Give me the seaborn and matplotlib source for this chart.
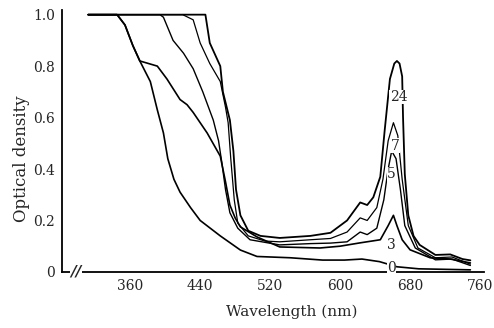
import pandas as pd
import seaborn as sns
import matplotlib.pyplot as plt

# Absorption spectra (wavelength in nm, optical density)
wl_0 = [312, 345, 354, 363, 371, 383, 391, 398, 403, 410, 417, 429, 440, 463, 486, 505, 543, 580, 605, 625, 645, 665, 690, 720, 749]
od_0 = [1.0, 1.0, 0.96, 0.88, 0.82, 0.74, 0.63, 0.54, 0.44, 0.36, 0.31, 0.25, 0.20, 0.14, 0.085, 0.06, 0.055, 0.046, 0.046, 0.05, 0.04, 0.02, 0.012, 0.01, 0.008]

wl_3 = [312, 345, 354, 363, 371, 391, 402, 417, 425, 432, 448, 463, 469, 474, 480, 486, 505, 531, 577, 600, 623, 646, 655, 661, 665, 671, 680, 703, 726, 749]
od_3 = [1.0, 1.0, 0.96, 0.88, 0.82, 0.80, 0.75, 0.67, 0.65, 0.62, 0.54, 0.45, 0.35, 0.26, 0.21, 0.175, 0.136, 0.097, 0.093, 0.10, 0.113, 0.125, 0.18, 0.22, 0.18, 0.125, 0.086, 0.055, 0.05, 0.035]

wl_5 = [312, 394, 398, 409, 421, 432, 443, 455, 461, 465, 469, 474, 483, 497, 531, 566, 589, 608, 623, 631, 642, 650, 655, 659, 664, 669, 674, 686, 709, 728, 749]
od_5 = [1.0, 1.0, 0.99, 0.90, 0.85, 0.79, 0.70, 0.59, 0.51, 0.42, 0.32, 0.23, 0.17, 0.125, 0.105, 0.11, 0.112, 0.117, 0.155, 0.145, 0.17, 0.28, 0.40, 0.47, 0.44, 0.32, 0.18, 0.093, 0.047, 0.05, 0.025]

wl_7 = [312, 420, 432, 440, 451, 463, 469, 472, 475, 479, 483, 495, 514, 531, 566, 589, 608, 623, 631, 642, 649, 655, 661, 666, 671, 678, 689, 709, 728, 749]
od_7 = [1.0, 1.0, 0.98, 0.89, 0.81, 0.74, 0.64, 0.58, 0.44, 0.28, 0.19, 0.14, 0.12, 0.117, 0.125, 0.13, 0.155, 0.21, 0.20, 0.25, 0.36, 0.51, 0.58, 0.53, 0.36, 0.18, 0.093, 0.055, 0.058, 0.03]

wl_24 = [312, 446, 451, 463, 466, 474, 478, 481, 486, 495, 509, 531, 566, 589, 608, 623, 631, 638, 646, 651, 657, 662, 665, 668, 671, 672, 674, 678, 684, 691, 709, 726, 740, 749]
od_24 = [1.0, 1.0, 0.89, 0.80, 0.70, 0.59, 0.47, 0.32, 0.22, 0.16, 0.14, 0.132, 0.14, 0.152, 0.20, 0.27, 0.26, 0.29, 0.37, 0.55, 0.75, 0.81, 0.82, 0.81, 0.76, 0.60, 0.38, 0.22, 0.14, 0.105, 0.066, 0.068, 0.05, 0.045]

curve_labels = ['0', '3', '5', '7', '24']
label_pos = {'0': (659, 0.016), '3': (659, 0.105), '5': (659, 0.38), '7': (663, 0.49), '24': (667, 0.68)}

x_ticks = [360, 440, 520, 600, 680, 760]
y_ticks = [0, 0.2, 0.4, 0.6, 0.8, 1.0]
y_tick_labels = ['0', '0.2', '0.4', '0.6', '0.8', '1.0']

curves = {'0': (wl_0, od_0), '3': (wl_3, od_3), '5': (wl_5, od_5),
          '7': (wl_7, od_7), '24': (wl_24, od_24)}
widths = {'0': 1.2, '3': 1.2, '5': 1.0, '7': 0.9, '24': 1.3}

sns.set_style('white')
plt.rcParams['font.family'] = ['DejaVu Serif']

fig = plt.figure(figsize=(4.94, 3.28), dpi=100)
ax = fig.add_axes([0.1255, 0.171, 0.855, 0.80])

for name in curve_labels:
    wl, od = curves[name]
    df = pd.DataFrame({'wavelength': wl, 'od': od})
    sns.lineplot(data=df, x='wavelength', y='od', color='black',
                 linewidth=widths[name], sort=False, estimator=None, ax=ax)
    tx, ty = label_pos[name]
    ax.text(tx, ty, name, fontsize=10, ha='center', va='center',
            bbox=dict(facecolor='white', edgecolor='none', pad=0.3))

ax.set_xlim(282, 765)
ax.set_ylim(0, 1.02)
ax.set_xticks(x_ticks)
ax.set_yticks(y_ticks)
ax.set_yticklabels(y_tick_labels)
ax.tick_params(direction='in', length=3, width=1, labelsize=10, pad=5)
ax.set_xlabel('Wavelength (nm)', fontsize=11)
ax.set_ylabel('Optical density', fontsize=12)
ax.xaxis.set_label_coords(0.543, -0.125)
ax.yaxis.set_label_coords(-0.075, 0.43)

for side in ['top', 'right']:
    ax.spines[side].set_visible(False)
for side in ['left', 'bottom']:
    ax.spines[side].set_linewidth(1.3)
    ax.spines[side].set_color('black')

# axis break on the wavelength axis
ax.text(0.033, 0.0, '//', transform=ax.transAxes, fontsize=11, ha='center',
        va='center', fontweight='bold', style='italic',
        bbox=dict(facecolor='white', edgecolor='none', pad=0.2))

fig.savefig('out.png', dpi=100)
